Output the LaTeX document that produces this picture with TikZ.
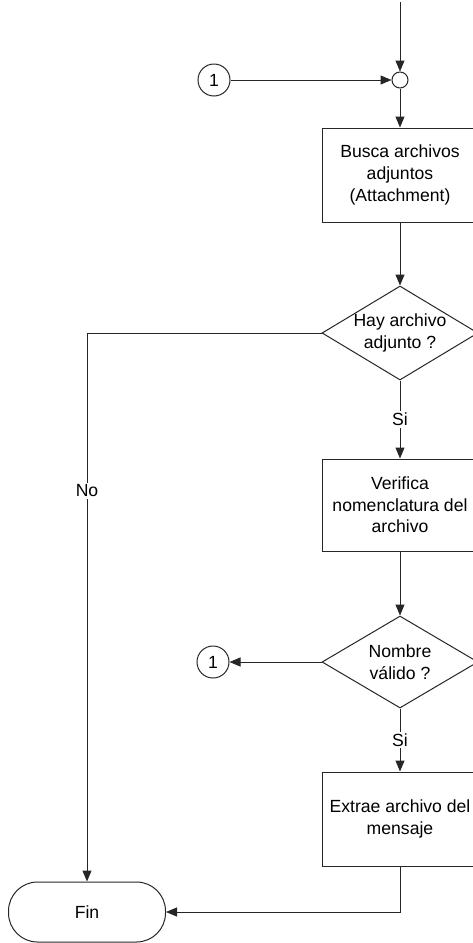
\documentclass[tikz,border=0pt]{standalone}
\usepackage{fontspec}
\setmainfont{Liberation Sans}
\usetikzlibrary{shapes.geometric,arrows.meta}
\begin{document}
\begin{tikzpicture}[x=1pt,y=-1pt,line width=1pt,draw=black!85,
  font=\fontsize{17.6}{21.6}\selectfont,
  arr/.style={-{Triangle[length=11pt,width=9pt]}},
  proc/.style={draw,fill=white,minimum width=156pt,minimum height=94pt,inner sep=0pt,align=center},
  dia/.style={draw,diamond,fill=white,minimum width=156pt,minimum height=94pt,inner sep=0pt},
  conn/.style={draw,circle,minimum size=32pt,inner sep=0pt},
  junc/.style={draw,circle,fill=white,minimum size=16pt,inner sep=0pt},
  term/.style={draw,rounded corners=29pt,minimum width=157pt,minimum height=60pt,inner sep=0pt},
  lbl/.style={fill=white,inner sep=2pt}]
\useasboundingbox (0,0) rectangle (472,943);
\coordinate (top) at (400,2);
\node[junc] (j) at (400,80) {};
\node[conn] (c1) at (214,80) {1};
\node[proc] (b1) at (400,175) {Busca archivos\\adjuntos\\(Attachment)};
\node[dia] (d1) at (400,333) {};
\node[align=center] (t1) at (d1) {Hay archivo\\adjunto ?};
\node[proc,minimum height=92pt] (b2) at (400,505) {Verifica\\nomenclatura del\\archivo};
\node[dia,minimum height=92pt] (d2) at (400,662) {};
\node[align=center] (t2) at (d2) {Nombre\\válido ?};
\node[conn] (c2) at (213,662) {1};
\node[proc] (b3) at (400,819) {Extrae archivo del\\mensaje};
\node[term] (fin) at (87,912) {Fin};
\draw[arr] (top) -- (j);
\draw[arr] (c1) -- (j);
\draw[arr] (j) -- (b1);
\draw[arr] (b1) -- (d1);
\draw[arr] (d1.south) -- node[lbl]{Si} (b2.north);
\draw[arr] (b2) -- (d2);
\draw[arr] (d2.west) -- (c2);
\draw[arr] (d2.south) -- node[lbl]{Si} (b3.north);
\draw[arr] (d1.west) -| node[lbl,pos=0.644]{No} (fin.north);
\draw[arr] (b3.south) |- (fin.east);
\end{tikzpicture}
\end{document}
